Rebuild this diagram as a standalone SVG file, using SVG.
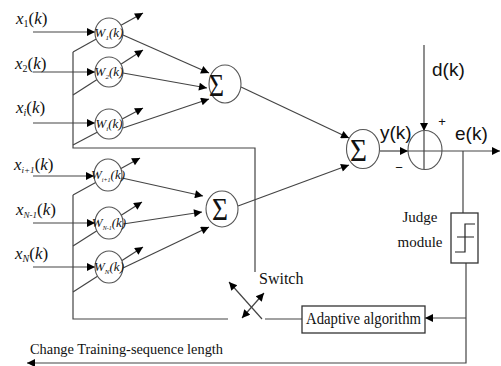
<svg xmlns="http://www.w3.org/2000/svg" width="501" height="366" viewBox="0 0 501 366">
<style>
.ln{fill:none;stroke:#444;stroke-width:1.2}
.ar{marker-end:url(#ah)}
.nd{fill:#fff;stroke:#555;stroke-width:1.1}
.bx{fill:#fff;stroke:#333;stroke-width:1.3}
.ser{font-family:"Liberation Serif","Times New Roman",serif;fill:#111}
.it{font-style:italic}
.san{font-family:"Liberation Sans",Arial,sans-serif;fill:#111}
.wt{font-family:"Liberation Serif","Times New Roman",serif;font-style:italic;font-size:13px;fill:#111;text-anchor:middle}
.sg{font-family:"Liberation Serif","Times New Roman",serif;font-size:32px;fill:#111}
</style>
<defs>
<marker id="ah" viewBox="0 0 10 10" refX="10" refY="5" markerWidth="11" markerHeight="8" markerUnits="userSpaceOnUse" orient="auto-start-reverse">
<path d="M0,0 L10,5 L0,10 z" fill="#000"/>
</marker>
</defs>
<rect width="501" height="366" fill="#fff"/>

<g id="connectors">
<path class="ln ar" d="M33,32 H95"/>
<path class="ln ar" d="M33,72 H95"/>
<path class="ln ar" d="M33,123 H95"/>
<path class="ln ar" d="M33,176 H94"/>
<path class="ln ar" d="M33,223 H95"/>
<path class="ln ar" d="M33,267 H95"/>
<path class="ln" d="M73,52 V148 H255 V272"/>
<path class="ln ar" d="M73,52 L143,13"/>
<path class="ln ar" d="M73,95 L143,50"/>
<path class="ln ar" d="M73,145 L143,108"/>
<path class="ln" d="M73,195 V319 H228"/>
<path class="ln ar" d="M73,195 L140,158"/>
<path class="ln ar" d="M73,246 L142,202"/>
<path class="ln ar" d="M73,292 L143,247"/>
<path class="ln ar" d="M123,35 L209,73"/>
<path class="ln ar" d="M123,73 L207,88"/>
<path class="ln ar" d="M123,128 L209,99"/>
<path class="ln ar" d="M122,178 L203,196"/>
<path class="ln ar" d="M123,224 L202,212"/>
<path class="ln ar" d="M123,268 L209,227"/>
<path class="ln ar" d="M241,87 L349,138"/>
<path class="ln ar" d="M238,206 L349,165"/>
<path class="ln ar" d="M380,151 H408"/>
<path class="ln ar" d="M424,45 V131"/>
<path class="ln ar" d="M442,151 H500"/>
<path class="ln" d="M463,151 V213"/>
<path class="ln ar" d="M466,263 V363 H27"/>
<path class="ln ar" d="M466,318 H425"/>
<path class="ln" d="M302,319 H265"/>
<path class="ln ar" d="M262,319 L229,282"/>
<path class="ln ar" d="M242,318 L264,293" style="marker-start:url(#ah)"/>
</g>

<g id="w1"><ellipse class="nd" cx="109" cy="33" rx="14" ry="15"/>
<text class="wt" x="109" y="37">W<tspan font-size="7" dy="3">1</tspan><tspan dy="-3">(k)</tspan></text></g>
<g id="w2"><ellipse class="nd" cx="109" cy="72" rx="14" ry="15"/>
<text class="wt" x="109" y="76">W<tspan font-size="7" dy="3">2</tspan><tspan dy="-3">(k)</tspan></text></g>
<g id="wi"><ellipse class="nd" cx="109" cy="124" rx="14" ry="15"/>
<text class="wt" x="109" y="128">W<tspan font-size="7" dy="3">i</tspan><tspan dy="-3">(k)</tspan></text></g>
<g id="wi1"><ellipse class="nd" cx="108" cy="175" rx="14" ry="16"/>
<text class="wt" x="108" y="179">W<tspan font-size="6" dy="3">i+1</tspan><tspan dy="-3">(k)</tspan></text></g>
<g id="wn1"><ellipse class="nd" cx="109" cy="223" rx="14" ry="16"/>
<text class="wt" x="109" y="227">W<tspan font-size="6" dy="3">N-1</tspan><tspan dy="-3">(k)</tspan></text></g>
<g id="wn"><ellipse class="nd" cx="109" cy="267" rx="14" ry="16"/>
<text class="wt" x="109" y="271">W<tspan font-size="7" dy="3">N</tspan><tspan dy="-3">(k)</tspan></text></g>

<g id="sum1"><ellipse class="nd" cx="225" cy="84" rx="16" ry="19"/>
<text class="sg" x="209" y="96" textLength="15" lengthAdjust="spacingAndGlyphs">Σ</text></g>
<g id="sum2"><ellipse class="nd" cx="222" cy="209" rx="16" ry="18"/>
<text class="sg" x="212" y="220" textLength="16" lengthAdjust="spacingAndGlyphs">Σ</text></g>
<g id="sum3"><ellipse class="nd" cx="363" cy="149" rx="16.5" ry="19.5"/>
<text class="sg" x="350" y="161" textLength="17" lengthAdjust="spacingAndGlyphs">Σ</text></g>

<g id="junction"><ellipse class="nd" cx="425" cy="150" rx="17" ry="19.5"/>
<path class="ln" d="M408,151 H442 M424,131 V169"/>
<text class="san" x="442" y="126" font-size="13" text-anchor="middle" fill="#666">+</text>
<text class="san" x="399" y="172" font-size="13" text-anchor="middle" fill="#666">−</text></g>

<g id="judge"><rect class="bx" x="451" y="213" width="27" height="50"/>
<path class="ln" d="M455,252 H465 V224 H475 M457,237 H474" style="stroke:#222"/>
<text class="ser" x="420" y="222" font-size="15" text-anchor="middle">Judge</text>
<text class="ser" x="420" y="247" font-size="15" text-anchor="middle">module</text></g>

<g id="adaptive"><rect class="bx" x="302" y="306" width="123" height="27"/>
<text class="ser" x="306" y="324" font-size="16" textLength="115" lengthAdjust="spacingAndGlyphs">Adaptive algorithm</text></g>

<g id="labels">
<text class="ser" x="16" y="24" font-size="17"><tspan class="it">x</tspan><tspan font-size="10" dy="3">1</tspan><tspan dy="-3">(</tspan><tspan class="it">k</tspan>)</text>
<text class="ser" x="15" y="69" font-size="17"><tspan class="it">x</tspan><tspan font-size="10" dy="3">2</tspan><tspan dy="-3">(</tspan><tspan class="it">k</tspan>)</text>
<text class="ser" x="16" y="113" font-size="17"><tspan class="it">x</tspan><tspan class="it" font-size="10" dy="3">i</tspan><tspan dy="-3">(</tspan><tspan class="it">k</tspan>)</text>
<text class="ser" x="14" y="170" font-size="17"><tspan class="it">x</tspan><tspan class="it" font-size="9" dy="3">i+1</tspan><tspan dy="-3">(</tspan><tspan class="it">k</tspan>)</text>
<text class="ser" x="16" y="215" font-size="17"><tspan class="it">x</tspan><tspan class="it" font-size="9" dy="3">N-1</tspan><tspan dy="-3">(</tspan><tspan class="it">k</tspan>)</text>
<text class="ser" x="15" y="259" font-size="17"><tspan class="it">x</tspan><tspan class="it" font-size="10" dy="3">N</tspan><tspan dy="-3">(</tspan><tspan class="it">k</tspan>)</text>
<text class="san" x="432" y="76" font-size="19">d(k)</text>
<text class="san" x="380" y="139" font-size="19">y(k)</text>
<text class="san" x="455" y="140" font-size="19">e(k)</text>
<text class="ser" x="259" y="284" font-size="16">Switch</text>
<text class="ser" x="30" y="354" font-size="15" textLength="193" lengthAdjust="spacingAndGlyphs">Change Training-sequence length</text>
</g>
</svg>
